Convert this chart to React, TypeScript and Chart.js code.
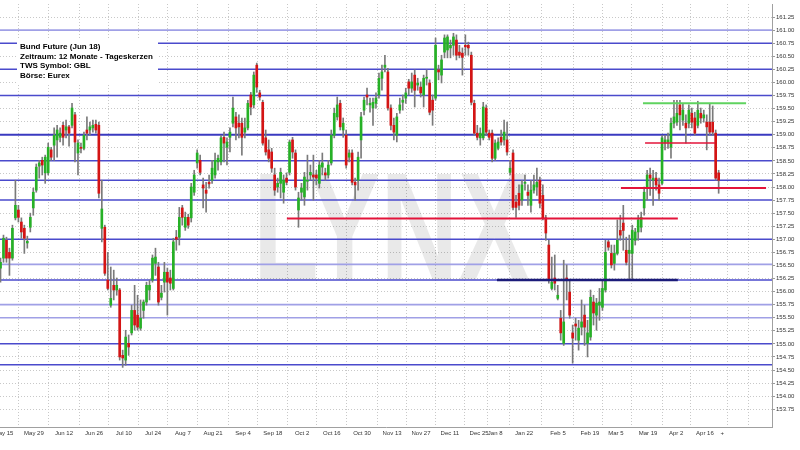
import React, { useEffect, useRef } from "react";
import { Chart, registerables } from "chart.js";

Chart.register(...registerables);

// ---- Daily candles (Bund Future Jun 18), one entry per trading day ----
const opens = [
  156.45, 156.64, 156.98, 156.75, 156.64, 157.41, 157.56, 157.33, 157.21, 156.93,
  157.23, 157.60, 157.94, 158.40, 158.51, 158.27, 158.27, 158.71, 158.80, 158.90,
  158.95, 159.18, 159.09, 159.15, 159.18, 159.38, 158.65, 158.76, 158.74, 159.09,
  159.09, 159.13, 159.20, 159.18, 157.21, 157.23, 156.22, 155.74, 156.12, 156.03,
  156.03, 154.78, 154.69, 155.01, 155.21, 155.64, 155.55, 155.30, 155.64, 155.80,
  156.03, 156.22, 156.54, 156.47, 155.89, 156.18, 156.37, 156.26, 156.06, 157.04,
  157.04, 157.60, 157.23, 157.42, 157.41, 157.90, 158.46, 158.51, 158.04, 157.94,
  158.09, 158.13, 158.23, 158.48, 158.48, 158.95, 158.76, 158.95, 159.22, 159.34,
  159.22, 159.22, 159.05, 159.13, 159.76, 159.57, 160.33, 159.80, 159.62, 158.94,
  158.71, 158.67, 158.23, 158.00, 158.07, 157.90, 158.17, 158.28, 158.90, 158.65,
  157.56, 157.90, 157.81, 158.11, 158.23, 158.23, 158.23, 158.07, 158.38, 158.27,
  158.23, 158.46, 158.99, 159.34, 159.60, 159.09, 158.99, 158.57, 158.65, 158.09,
  158.13, 158.90, 159.47, 159.76, 159.57, 159.51, 159.60, 159.76, 160.08, 160.29,
  160.20, 159.51, 159.18, 158.99, 159.47, 159.62, 159.70, 160.01, 159.89, 160.14,
  159.95, 159.91, 159.76, 160.08, 159.99, 159.66, 159.70, 160.24, 160.14, 160.58,
  160.62, 160.66, 160.71, 160.81, 160.58, 160.56, 160.71, 160.71, 160.52, 159.60,
  159.03, 158.94, 158.94, 159.51, 159.03, 159.03, 158.55, 158.74, 158.95, 158.90,
  158.90, 158.28, 158.65, 157.71, 157.88, 157.75, 158.07, 157.90, 157.65, 157.94,
  158.00, 158.13, 157.84, 157.41, 156.89, 156.06, 156.26, 155.87, 155.49, 155.01,
  156.26, 155.99, 155.21, 155.38, 155.07, 155.32, 155.55, 155.01, 155.13, 155.80,
  155.55, 155.74, 155.70, 156.03, 156.95, 156.73, 156.54, 156.73, 157.17, 157.31,
  156.79, 156.73, 156.73, 156.98, 157.14, 157.23, 157.60, 157.98, 158.23, 158.13,
  158.17, 158.04, 158.07, 158.84, 158.86, 158.76, 159.22, 159.24, 159.57, 159.28,
  159.22, 159.22, 159.41, 159.32, 159.18, 159.41, 159.32, 159.24, 159.24, 159.24,
  159.03, 158.27,
];

const highs = [
  156.64, 157.08, 157.04, 156.83, 157.27, 158.13, 157.65, 157.41, 157.27, 157.06,
  157.50, 157.98, 158.44, 158.51, 158.57, 158.61, 158.84, 158.76, 159.13, 159.18,
  159.13, 159.24, 159.28, 159.18, 159.60, 159.43, 158.90, 158.84, 159.05, 159.34,
  159.24, 159.28, 159.28, 159.24, 158.13, 157.27, 156.75, 156.47, 156.41, 156.26,
  156.06, 154.88, 155.26, 155.17, 155.74, 156.12, 155.93, 155.84, 155.84, 156.18,
  156.22, 156.70, 156.83, 156.56, 156.12, 156.56, 156.45, 156.41, 157.02, 157.17,
  157.61, 157.65, 157.52, 157.48, 158.07, 158.32, 158.71, 158.61, 158.17, 158.09,
  158.23, 158.51, 158.65, 158.61, 158.99, 159.05, 158.94, 159.13, 159.72, 159.43,
  159.38, 159.32, 159.32, 159.66, 159.81, 160.20, 160.37, 159.85, 159.66, 159.09,
  158.90, 158.74, 158.36, 158.17, 158.36, 158.23, 158.27, 158.90, 158.95, 158.71,
  157.90, 158.07, 158.28, 158.61, 158.42, 158.61, 158.32, 158.51, 158.65, 158.36,
  158.51, 159.09, 159.51, 159.72, 159.66, 159.32, 159.09, 158.71, 158.71, 158.17,
  158.67, 159.43, 159.72, 159.89, 159.70, 159.70, 159.80, 160.18, 160.33, 160.52,
  160.27, 159.57, 159.32, 159.41, 159.70, 159.76, 159.89, 160.06, 160.18, 160.24,
  160.08, 160.01, 160.14, 160.24, 160.05, 159.76, 160.85, 160.33, 160.52, 160.91,
  160.91, 160.81, 160.94, 160.91, 160.71, 160.66, 160.91, 160.77, 160.58, 159.66,
  159.18, 159.13, 159.62, 159.57, 159.09, 159.09, 158.90, 158.94, 159.09, 159.28,
  159.24, 158.51, 158.71, 157.84, 158.04, 158.13, 158.23, 158.04, 158.13, 158.23,
  158.36, 158.19, 158.04, 157.46, 156.98, 156.66, 156.70, 156.12, 155.64, 156.60,
  156.51, 156.22, 155.36, 155.49, 155.45, 155.84, 155.74, 155.45, 156.03, 155.93,
  155.87, 156.06, 156.22, 156.98, 156.98, 156.89, 156.89, 157.37, 157.46, 157.65,
  157.04, 157.08, 157.27, 157.21, 157.46, 157.52, 158.00, 158.32, 158.36, 158.32,
  158.28, 158.17, 158.99, 158.99, 159.03, 159.32, 159.66, 159.66, 159.66, 159.60,
  159.38, 159.57, 159.51, 159.43, 159.64, 159.51, 159.47, 159.38, 159.60, 159.55,
  159.09, 158.32,
];

const lows = [
  156.18, 156.56, 156.56, 156.31, 156.60, 157.37, 157.33, 157.02, 156.73, 156.83,
  157.14, 157.46, 157.90, 158.17, 158.23, 158.07, 158.23, 158.51, 158.51, 158.57,
  158.86, 158.80, 158.94, 158.78, 159.13, 158.48, 158.23, 158.65, 158.71, 158.90,
  158.99, 159.05, 159.03, 157.79, 156.95, 156.31, 156.03, 155.70, 155.84, 155.93,
  154.69, 154.55, 154.59, 154.78, 155.17, 155.26, 155.26, 155.26, 155.49, 155.74,
  155.84, 156.18, 156.31, 155.74, 155.84, 155.99, 155.55, 156.03, 156.03, 156.79,
  156.89, 157.27, 157.17, 157.21, 157.33, 157.84, 158.36, 158.23, 157.60, 157.52,
  157.98, 158.07, 158.17, 158.32, 158.42, 158.48, 158.42, 158.67, 159.15, 158.90,
  158.94, 158.61, 158.94, 159.09, 159.38, 159.51, 159.81, 159.66, 158.80, 158.61,
  158.48, 158.28, 157.84, 157.90, 157.79, 157.69, 158.04, 158.23, 158.55, 157.94,
  157.23, 157.75, 157.65, 157.94, 158.13, 157.75, 158.04, 157.98, 158.23, 158.13,
  158.17, 158.42, 158.94, 159.28, 159.09, 158.95, 158.36, 158.48, 158.04, 157.75,
  157.94, 158.55, 159.38, 159.57, 159.43, 159.18, 159.51, 159.70, 159.85, 160.20,
  159.47, 159.09, 158.90, 158.86, 159.41, 159.47, 159.60, 159.76, 159.81, 159.53,
  159.85, 159.72, 159.53, 159.95, 159.38, 159.18, 159.66, 160.05, 159.99, 160.47,
  160.47, 160.47, 160.52, 160.43, 160.47, 160.14, 160.52, 160.52, 159.57, 158.99,
  158.90, 158.80, 158.90, 158.99, 158.90, 158.48, 158.51, 158.71, 158.80, 158.80,
  158.61, 158.23, 157.56, 157.42, 157.56, 157.65, 157.94, 157.65, 157.52, 157.88,
  157.84, 157.60, 157.37, 156.98, 156.16, 156.03, 156.03, 155.84, 155.07, 154.97,
  155.84, 155.49, 154.63, 155.07, 154.88, 155.17, 154.97, 154.75, 155.07, 155.36,
  155.26, 155.45, 155.64, 155.99, 156.79, 156.45, 156.41, 156.70, 156.98, 156.79,
  156.51, 156.22, 156.22, 156.89, 156.98, 157.14, 157.46, 157.75, 157.84, 157.65,
  157.94, 157.75, 158.04, 158.71, 158.74, 158.55, 159.13, 159.18, 159.09, 159.18,
  158.84, 159.13, 159.13, 158.99, 159.13, 159.22, 159.24, 158.71, 158.99, 158.99,
  158.13, 157.88,
];

const closes = [
  156.56, 157.02, 156.64, 156.64, 157.21, 157.65, 157.42, 157.14, 157.02, 156.96,
  157.42, 157.90, 158.38, 158.46, 158.42, 158.57, 158.76, 158.57, 158.99, 159.09,
  159.03, 158.95, 159.15, 159.03, 159.51, 158.86, 158.84, 158.74, 158.99, 159.03,
  159.15, 159.18, 159.09, 157.88, 157.58, 156.35, 156.06, 155.87, 156.03, 156.12,
  154.75, 154.73, 155.13, 154.94, 155.64, 155.36, 155.32, 155.49, 155.80, 156.12,
  156.12, 156.64, 156.66, 155.80, 155.97, 156.37, 156.18, 156.16, 156.95, 157.00,
  157.42, 157.42, 157.42, 157.27, 158.00, 158.23, 158.65, 158.28, 157.98, 157.88,
  158.06, 158.36, 158.51, 158.55, 158.94, 158.84, 158.86, 159.05, 159.51, 159.13,
  159.15, 158.95, 159.13, 159.60, 159.53, 160.14, 159.91, 159.72, 158.84, 158.67,
  158.55, 158.36, 157.94, 158.07, 158.28, 158.13, 158.09, 158.86, 158.67, 158.00,
  157.79, 157.98, 158.19, 158.13, 158.28, 158.19, 158.17, 158.42, 158.46, 158.23,
  158.42, 158.99, 159.41, 159.57, 159.15, 159.22, 158.42, 158.65, 158.09, 158.04,
  158.57, 159.34, 159.66, 159.72, 159.60, 159.62, 159.70, 160.08, 160.20, 160.33,
  159.51, 159.18, 159.05, 159.34, 159.57, 159.66, 159.80, 159.89, 160.01, 159.85,
  159.99, 159.80, 160.08, 160.10, 159.43, 159.47, 160.71, 160.20, 160.43, 160.85,
  160.87, 160.71, 160.87, 160.52, 160.52, 160.48, 160.68, 160.66, 159.62, 159.03,
  158.95, 159.03, 159.53, 159.05, 158.95, 158.55, 158.84, 158.86, 158.86, 159.05,
  158.67, 158.36, 157.61, 157.61, 157.65, 158.04, 158.09, 157.84, 157.94, 158.04,
  158.09, 157.69, 157.41, 157.12, 156.22, 156.18, 156.16, 155.93, 155.21, 155.42,
  156.22, 155.55, 155.11, 155.34, 155.30, 155.42, 155.32, 155.21, 155.89, 155.59,
  155.78, 155.80, 156.06, 156.75, 156.85, 156.51, 156.73, 156.98, 157.08, 157.17,
  156.56, 156.79, 157.17, 157.14, 157.37, 157.42, 157.90, 158.23, 158.17, 158.17,
  158.04, 157.88, 158.94, 158.90, 158.90, 159.22, 159.34, 159.41, 159.38, 159.47,
  159.13, 159.47, 159.24, 159.03, 159.47, 159.32, 159.38, 159.15, 159.05, 159.05,
  158.17, 158.13,
];

// ---- Date axis (positions in trading-day index units) ----
const dateTickPositions = [
  1, 11.2, 21.3, 31.4, 41.4, 51.2, 61.2, 71.3, 81.4, 91.4, 101.2, 111.2, 121.3,
  131.4, 141.1, 150.8, 160.6, 166, 175.7, 187.1, 197.8, 206.5, 217.3, 226.7, 236.4,
];
const dateTickLabels = [
  "May 15", "May 29", "Jun 12", "Jun 26", "Jul 10", "Jul 24", "Aug 7", "Aug 21",
  "Sep 4", "Sep 18", "Oct 2", "Oct 16", "Oct 30", "Nov 13", "Nov 27", "Dec 11",
  "Dec 25", "Jan 8", "Jan 22", "Feb 5", "Feb 19", "Mar 5", "Mar 19", "Apr 2", "Apr 16",
];
const plusTickPosition = 242.2;
const futureGridPositions = [245.8, 255.9];

// ---- Price axis ----
const priceTicks = [
  153.75, 154.0, 154.25, 154.5, 154.75, 155.0, 155.25, 155.5, 155.75, 156.0,
  156.25, 156.5, 156.75, 157.0, 157.25, 157.5, 157.75, 158.0, 158.25, 158.5,
  158.75, 159.0, 159.25, 159.5, 159.75, 160.0, 160.25, 160.5, 160.75, 161.0, 161.25,
];

// ---- Full-width horizontal levels ----
const levelPrices = [161.0, 160.75, 160.25, 159.75, 159.0, 158.5, 158.13, 157.75, 157.0, 156.52, 156.22, 155.75, 155.5, 155.0, 154.6];
const levelKinds = ["light", "normal", "normal", "normal", "strong", "normal", "normal", "normal", "normal", "light", "normal", "light", "light", "normal", "normal"];

// ---- Drawn segments (support / resistance) ----
const segmentPrices = [157.4, 157.98, 158.84, 159.6, 156.22];
const segmentStarts = [96.1, 208.2, 216.3, 215.6, 166.6];
const segmentEnds = [227.3, 256.9, 239.8, 250.2, 227.3];
const segmentKinds = ["red", "red", "redThin", "green", "navy"];

const infoLines = [
  "Bund Future (Jun 18)",
  "Zeitraum: 12 Monate - Tageskerzen",
  "TWS Symbol: GBL",
  "Börse: Eurex",
];

const levelStyle: Record<string, { color: string; width: number }> = {
  light: { color: "#a0a0e6", width: 1.6 },
  normal: { color: "#4a4acc", width: 1.5 },
  strong: { color: "#3a3ac0", width: 2 },
};
const segmentStyle: Record<string, { color: string; width: number }> = {
  red: { color: "#e3143a", width: 2 },
  redThin: { color: "#e3143a", width: 1.5 },
  green: { color: "#5fd35f", width: 2 },
  navy: { color: "#1b1b7a", width: 2.5 },
};

const FONT = '"Liberation Sans", Arial, sans-serif';

const watermarkPlugin = {
  id: "watermark",
  beforeDatasetsDraw(chart: any) {
    const ctx = chart.ctx as CanvasRenderingContext2D;
    ctx.save();
    ctx.font = `bold 154px ${FONT}`;
    const w = ctx.measureText("LYNX").width;
    ctx.translate(253, 280);
    ctx.scale(277 / w, 1);
    ctx.fillStyle = "rgba(0,0,0,0.085)";
    ctx.textBaseline = "alphabetic";
    ctx.fillText("LYNX", 0, 0);
    ctx.restore();
  },
};

const infoBoxPlugin = {
  id: "infoBox",
  afterDatasetsDraw(chart: any) {
    const ctx = chart.ctx as CanvasRenderingContext2D;
    ctx.save();
    ctx.fillStyle = "#ffffff";
    ctx.fillRect(17, 38, 141, 46);
    ctx.fillStyle = "#000000";
    ctx.font = `bold 8px ${FONT}`;
    ctx.textBaseline = "middle";
    infoLines.forEach((t, i) => ctx.fillText(t, 20, 46.5 + i * 9.8));
    ctx.restore();
  },
};

export default function App() {
  const ref = useRef<HTMLCanvasElement | null>(null);

  useEffect(() => {
    if (!ref.current) return;

    const bodyColors = opens.map((o, i) => (closes[i] >= o ? "#26b126" : "#d41414"));

    const levelDatasets = levelPrices.map((p, i) => ({
      type: "line" as const,
      data: [
        { x: -5, y: p },
        { x: 270, y: p },
      ],
      borderColor: levelStyle[levelKinds[i]].color,
      borderWidth: levelStyle[levelKinds[i]].width,
      pointRadius: 0,
      order: 10,
    }));

    const segmentDatasets = segmentPrices.map((p, i) => ({
      type: "line" as const,
      data: [
        { x: segmentStarts[i], y: p },
        { x: segmentEnds[i], y: p },
      ],
      borderColor: segmentStyle[segmentKinds[i]].color,
      borderWidth: segmentStyle[segmentKinds[i]].width,
      pointRadius: 0,
      order: 1,
    }));

    const allXTicks = [...dateTickPositions, plusTickPosition, ...futureGridPositions];
    const isLevelTick = (v: number) => levelPrices.some((p) => Math.abs(p - v) < 0.03);

    const chart = new Chart(ref.current, {
      type: "bar",
      data: {
        datasets: [
          ...levelDatasets,
          {
            type: "bar",
            data: opens.map((_, i) => ({ x: i, y: [lows[i], highs[i]] })),
            backgroundColor: "#7a7a7a",
            barThickness: 1,
            grouped: false,
            order: 5,
          } as any,
          {
            type: "bar",
            data: opens.map((o, i) => ({ x: i, y: [o, closes[i]] })),
            backgroundColor: bodyColors,
            barThickness: 2,
            grouped: false,
            order: 4,
          } as any,
          ...segmentDatasets,
        ],
      },
      options: {
        responsive: false,
        animation: false,
        devicePixelRatio: 1,
        events: [],
        layout: { padding: { top: 4, left: 0, right: 0, bottom: 0 } },
        plugins: {
          legend: { display: false },
          tooltip: { enabled: false },
        },
        scales: {
          x: {
            type: "linear",
            position: "bottom",
            min: -0.17,
            max: 258.9,
            offset: false,
            afterBuildTicks: (scale: any) => {
              scale.ticks = allXTicks.map((v) => ({ value: v }));
            },
            afterFit: (scale: any) => {
              scale.height = 23;
              scale.paddingLeft = 0;
              scale.paddingRight = 0;
            },
            ticks: {
              autoSkip: false,
              maxRotation: 0,
              minRotation: 0,
              padding: 3,
              color: "#333333",
              font: { family: FONT, size: 6 },
              callback: (_v: any, index: number) =>
                index < dateTickLabels.length ? dateTickLabels[index] : index === dateTickLabels.length ? "+" : "",
            },
            grid: {
              drawTicks: false,
              color: (ctx: any) => (ctx.index === dateTickLabels.length ? "rgba(0,0,0,0)" : "#c8c8c8"),
              lineWidth: 1,
            },
            border: { display: true, color: "#a0a0a0", width: 1, dash: [1, 2] },
          },
          y: {
            type: "linear",
            position: "right",
            min: 153.41,
            max: 161.5,
            afterBuildTicks: (scale: any) => {
              scale.ticks = priceTicks.map((v) => ({ value: v }));
            },
            afterFit: (scale: any) => {
              scale.width = 28;
              scale.paddingTop = 0;
              scale.paddingBottom = 0;
            },
            ticks: {
              padding: 1,
              color: "#333333",
              font: { family: FONT, size: 6 },
              callback: (v: any) => Number(v).toFixed(2),
            },
            grid: {
              drawTicks: true,
              tickLength: 3,
              tickColor: "#9a9a9a",
              tickBorderDash: [10, 0],
              color: (ctx: any) => (ctx.tick && isLevelTick(ctx.tick.value) ? "rgba(0,0,0,0)" : "#c8c8c8"),
              lineWidth: 1,
            },
            border: { display: true, color: "#a0a0a0", width: 1, dash: [1, 2] },
          },
        },
      } as any,
      plugins: [watermarkPlugin, infoBoxPlugin],
    });

    return () => chart.destroy();
  }, []);

  return (
    <div style={{ position: "absolute", left: 0, top: 0, width: 800, height: 450, background: "#ffffff" }}>
      <canvas ref={ref} width={800} height={450} style={{ display: "block" }} />
    </div>
  );
}
